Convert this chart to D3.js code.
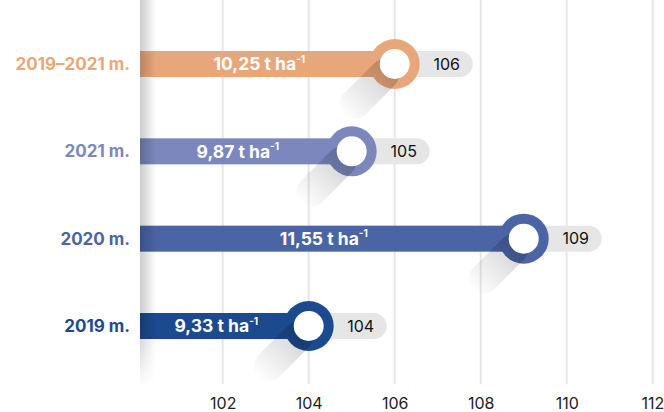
<!DOCTYPE html>
<html><head><meta charset="utf-8">
<script src="https://cdn.jsdelivr.net/npm/d3@7"></script>
<style>body{margin:0;background:#fff}svg{display:block}</style>
</head><body>
<svg id="c" width="664" height="412"></svg>
<script>
const categories = ["2019–2021 m.", "2021 m.", "2020 m.", "2019 m."];
const values = [106, 105, 109, 104];
const yieldLabels = ["10,25", "9,87", "11,55", "9,33"];
const colors = ["#e8a77b", "#7b87bd", "#4a64a5", "#1c4a8f"];
const ticks = [102, 104, 106, 108, 110, 112];

const svg = d3.select("#c");
const x = d3.scaleLinear().domain([100, 112]).range([136.7, 652.7]);
const y = d3.scalePoint().domain(categories).range([64, 326]);
const barStart = 140, barH = 26, rOut = 25, rIn = 15;
const font = "Inter, 'Open Sans', sans-serif";

const defs = svg.append("defs");
const sg = defs.append("linearGradient").attr("id", "sh").attr("x1", 0).attr("x2", 1).attr("y1", 0).attr("y2", 0);
sg.append("stop").attr("offset", 0).attr("stop-color", "#000").attr("stop-opacity", 0.22);
sg.append("stop").attr("offset", 0.45).attr("stop-color", "#000").attr("stop-opacity", 0.11);
sg.append("stop").attr("offset", 1).attr("stop-color", "#000").attr("stop-opacity", 0);
const lg = defs.append("linearGradient").attr("id", "ls").attr("x1", 0).attr("x2", 1).attr("y1", 0).attr("y2", 0);
lg.append("stop").attr("offset", 0).attr("stop-color", "#000").attr("stop-opacity", 0.2);
lg.append("stop").attr("offset", 1).attr("stop-color", "#000").attr("stop-opacity", 0);
const lgv = defs.append("linearGradient").attr("id", "lsv").attr("x1", 0).attr("x2", 0).attr("y1", 0).attr("y2", 1);
lgv.append("stop").attr("offset", 0.85).attr("stop-color", "#fff").attr("stop-opacity", 1);
lgv.append("stop").attr("offset", 1).attr("stop-color", "#fff").attr("stop-opacity", 0);
defs.append("mask").attr("id", "lm").append("rect").attr("x", 0).attr("y", 0).attr("width", 664).attr("height", 386).attr("fill", "url(#lsv)");

// grid
const xAxis = d3.axisBottom(x).tickValues(ticks).tickSize(0).tickPadding(0);
const gx = svg.append("g").attr("transform", "translate(0,409)").call(xAxis);
gx.select(".domain").remove();
gx.selectAll("text").attr("dy", 0).attr("font-family", font).attr("font-size", 16).attr("fill", "#222").attr("y", 0);
gx.selectAll(".tick").filter(d => d === 112).select("text").attr("text-anchor", "end").attr("x", 11);
svg.append("g").selectAll("line").data(ticks).join("line")
  .attr("x1", d => x(d)).attr("x2", d => x(d)).attr("y1", 0).attr("y2", 384)
  .attr("stroke", "#e6e6e6").attr("stroke-width", 2);

const rows = svg.append("g").selectAll("g").data(categories).join("g");

// pills
rows.append("rect")
  .attr("x", (d, i) => x(values[i])).attr("y", d => y(d) - barH / 2)
  .attr("width", 78).attr("height", barH).attr("rx", barH / 2).attr("fill", "#e6e6e6");
rows.append("text")
  .attr("x", (d, i) => x(values[i]) + 52).attr("y", d => y(d)).attr("dy", "0.36em")
  .attr("text-anchor", "middle").attr("font-family", font).attr("font-size", 16).attr("fill", "#111")
  .text((d, i) => values[i]);

// bars
rows.append("rect")
  .attr("x", barStart).attr("y", d => y(d) - barH / 2)
  .attr("width", (d, i) => x(values[i]) - barStart).attr("height", barH)
  .attr("fill", (d, i) => colors[i]);
// rings
rows.append("circle")
  .attr("cx", (d, i) => x(values[i])).attr("cy", d => y(d)).attr("r", rOut)
  .attr("fill", (d, i) => colors[i]);
// long shadow
rows.append("rect")
  .attr("transform", (d, i) => `translate(${x(values[i])},${y(d)}) rotate(135)`)
  .attr("x", 0).attr("y", -rIn).attr("width", 72).attr("height", rIn * 2).attr("rx", rIn)
  .attr("fill", "url(#sh)");
// inner white
rows.append("circle")
  .attr("cx", (d, i) => x(values[i])).attr("cy", d => y(d)).attr("r", rIn).attr("fill", "#fff");

// bar text
const bt = rows.append("text")
  .attr("x", (d, i) => (barStart + x(values[i])) / 2 - 8).attr("y", d => y(d)).attr("dy", "0.36em")
  .attr("text-anchor", "middle").attr("font-family", font).attr("font-weight", 700)
  .attr("font-size", 17.5).attr("fill", "#fff");
bt.append("tspan").text((d, i) => yieldLabels[i] + " t ha");
bt.append("tspan").attr("font-size", 10).attr("dy", "-0.75em").text("-1");

// category labels
rows.append("text")
  .attr("x", 130).attr("y", d => y(d)).attr("dy", "0.36em")
  .attr("text-anchor", "end").attr("font-family", font).attr("font-weight", 700)
  .attr("font-size", 17).attr("fill", (d, i) => colors[i])
  .text(d => d);

// left edge shadow
svg.append("rect").attr("x", barStart).attr("y", 0).attr("width", 16).attr("height", 386)
  .attr("fill", "url(#ls)").attr("mask", "url(#lm)");
</script>
</body></html>
